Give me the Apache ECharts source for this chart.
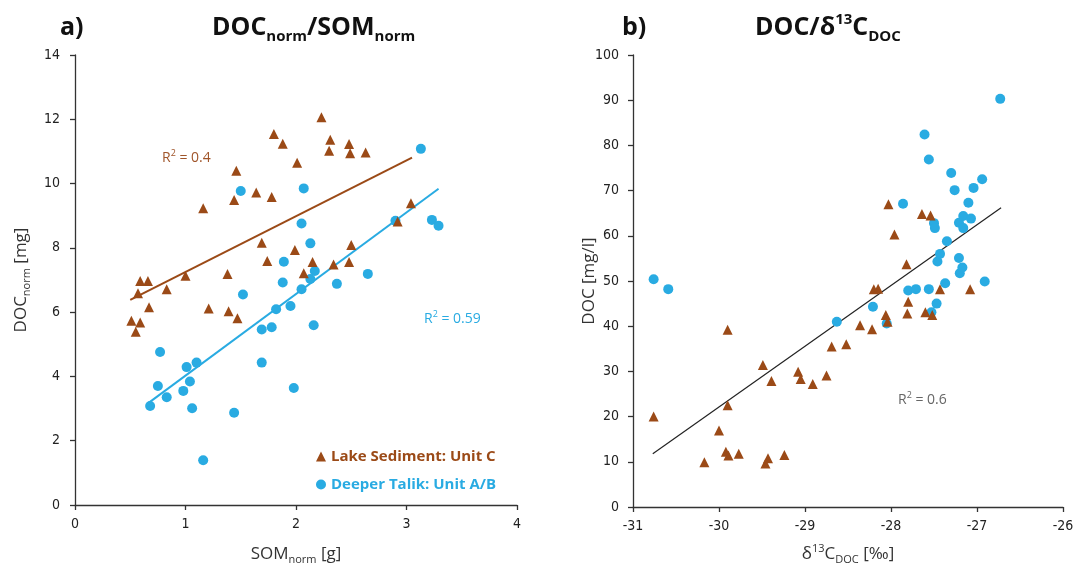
<!DOCTYPE html>
<html>
<head>
<meta charset="utf-8">
<script src="https://cdn.jsdelivr.net/npm/echarts@6/dist/echarts.min.js"></script>
<style>
html,body{margin:0;padding:0;background:#fff}
#chart{width:1078px;height:565px}
</style>
</head>
<body>
<div id="chart"></div>
<script>
// a) DOCnorm vs SOMnorm
const lakeA = [[0.51,5.73],[0.55,5.39],[0.59,5.68],[0.57,6.59],[0.59,6.97],[0.66,6.97],[0.67,6.15],[0.83,6.71],
  [1.0,7.13],[1.16,9.23],[1.21,6.11],[1.38,7.19],[1.39,6.03],[1.44,9.49],[1.46,10.4],[1.47,5.81],[1.64,9.72],
  [1.69,8.16],[1.74,7.59],[1.78,9.58],[1.8,11.54],[1.88,11.24],[1.99,7.93],[2.01,10.65],[2.07,7.21],[2.15,7.56],
  [2.23,12.06],[2.3,11.02],[2.31,11.36],[2.34,7.48],[2.48,11.23],[2.49,10.94],[2.48,7.56],[2.5,8.09],[2.63,10.97],
  [2.92,8.82],[3.04,9.39]];
const talikA = [[0.68,3.08],[0.75,3.7],[0.77,4.76],[0.83,3.35],[0.98,3.55],[1.01,4.29],[1.04,3.84],[1.06,3.01],
  [1.1,4.43],[1.16,1.39],[1.44,2.87],[1.5,9.77],[1.52,6.55],[1.69,5.46],[1.69,4.43],[1.78,5.53],[1.82,6.09],
  [1.88,6.92],[1.89,7.57],[1.95,6.19],[1.98,3.64],[2.05,8.76],[2.05,6.71],[2.07,9.85],[2.13,8.14],[2.13,7.03],
  [2.16,5.59],[2.17,7.28],[2.37,6.88],[2.65,7.19],[2.9,8.84],[3.13,11.08],[3.23,8.87],[3.29,8.69]];
const fitLakeA = [[0.5,6.38],[3.05,10.81]];
const fitTalikA = [[0.66,3.16],[3.29,9.84]];

// b) DOC vs d13C-DOC
const lakeB = [[-30.76,20.0],[-30.17,9.9],[-30.0,16.9],[-29.92,12.2],[-29.9,39.2],[-29.9,22.5],[-29.89,11.4],
  [-29.77,11.8],[-29.49,31.4],[-29.46,9.6],[-29.43,10.8],[-29.39,27.9],[-29.24,11.5],[-29.08,29.9],[-29.05,28.3],
  [-28.91,27.2],[-28.75,29.1],[-28.69,35.5],[-28.52,36.0],[-28.36,40.2],[-28.22,39.3],[-28.2,48.2],[-28.15,48.3],
  [-28.06,42.5],[-28.04,41.0],[-28.03,67.0],[-27.96,60.3],[-27.82,53.7],[-27.81,42.8],[-27.8,45.4],[-27.64,64.8],
  [-27.6,43.1],[-27.54,64.5],[-27.52,42.5],[-27.43,48.2],[-27.08,48.2]];
const talikB = [[-30.76,50.4],[-30.59,48.2],[-28.63,41.0],[-28.21,44.3],[-28.05,40.6],[-27.86,67.1],[-27.8,47.9],
  [-27.71,48.2],[-27.61,82.4],[-27.56,76.9],[-27.56,48.2],[-27.53,43.1],[-27.5,62.8],[-27.49,61.7],[-27.47,45.0],
  [-27.46,54.3],[-27.43,56.0],[-27.37,49.5],[-27.35,58.8],[-27.3,73.9],[-27.26,70.1],[-27.21,62.9],[-27.21,55.1],
  [-27.2,51.7],[-27.17,53.0],[-27.16,64.4],[-27.16,61.7],[-27.1,67.3],[-27.07,63.8],[-27.04,70.6],[-26.94,72.5],
  [-26.91,49.9],[-26.73,90.3]];
const fitB = [[-30.77,11.8],[-26.72,66.2]];

const BROWN = '#9b4a17'
const BLUE = '#29abe2'
const FONT = "'Open Sans', 'DejaVu Sans', sans-serif"
const NARROW = "'Liberation Sans Narrow', 'DejaVu Sans Condensed', sans-serif"
const LAKE = 'Lake Sediment: Unit C'
const TALIK = 'Deeper Talik: Unit A/B'

const myChart = echarts.init(document.getElementById('chart'))

function axisCommon(margin) {
  return {
    axisLine: { show: true, onZero: false, lineStyle: { color: '#333', width: 1.3 } },
    axisTick: { show: true, inside: false, length: 5, lineStyle: { color: '#333', width: 1.3 } },
    axisLabel: { color: '#222', fontSize: 14, fontFamily: NARROW, margin: margin },
    splitLine: { show: false },
    nameLocation: 'middle',
    nameMoveOverlap: false,
    nameTextStyle: {
      color: '#333', fontSize: 17, fontFamily: FONT, lineHeight: 22,
      rich: {
        s: { fontSize: 11, fontFamily: FONT, color: '#333', lineHeight: 12, verticalAlign: 'bottom' },
        p: { fontSize: 11, fontFamily: FONT, color: '#333', lineHeight: 12, verticalAlign: 'top' }
      }
    }
  }
}

const titleRich = {
  s: { fontSize: 15, fontWeight: 'bold', fontFamily: FONT, color: '#111', lineHeight: 15, verticalAlign: 'bottom' },
  p: { fontSize: 15, fontWeight: 'bold', fontFamily: FONT, color: '#111', lineHeight: 15, verticalAlign: 'top' }
}
const titleStyle = { fontSize: 25, fontWeight: 'bold', fontFamily: FONT, color: '#111', lineHeight: 32, rich: titleRich }

function r2(text, color, left, top) {
  return {
    text: text, left: left, top: top, padding: 0,
    textStyle: {
      fontSize: 14, fontWeight: 'normal', fontFamily: FONT, color: color, lineHeight: 18,
      rich: { p: { fontSize: 9, fontFamily: FONT, color: color, lineHeight: 10, verticalAlign: 'top' } }
    }
  }
}

myChart.setOption({
  animation: false,
  backgroundColor: '#fff',
  title: [
    { text: 'a)', left: 60, top: 12, padding: 0, textStyle: titleStyle },
    { text: 'DOC{s|norm}/SOM{s|norm}', left: 212, top: 12, padding: 0, textStyle: titleStyle },
    { text: 'b)', left: 622, top: 12, padding: 0, textStyle: titleStyle },
    { text: 'DOC/δ{p|13}C{s|DOC}', left: 755, top: 12, padding: 0, textStyle: titleStyle },
    r2('R{p|2} = 0.4', '#a0552a', 162, 149),
    r2('R{p|2} = 0.59', BLUE, 424, 310),
    r2('R{p|2} = 0.6', '#666', 898, 391)
  ],
  legend: {
    orient: 'vertical',
    left: 311,
    top: 444,
    itemGap: 13,
    itemWidth: 10,
    itemHeight: 10,
    textStyle: { fontSize: 15, fontWeight: 'bold', fontFamily: FONT },
    data: [
      { name: LAKE, icon: 'triangle', textStyle: { color: BROWN } },
      { name: TALIK, icon: 'circle', textStyle: { color: BLUE } }
    ]
  },
  grid: [
    { left: 75, right: 561, top: 55, bottom: 60, containLabel: false, outerBoundsMode: 'none' },
    { left: 633, right: 15, top: 55, bottom: 58, containLabel: false, outerBoundsMode: 'none' }
  ],
  xAxis: [
    Object.assign(axisCommon(12), {
      gridIndex: 0, type: 'value', min: 0, max: 4, interval: 1,
      name: 'SOM{s|norm} [g]', nameGap: 38
    }),
    Object.assign(axisCommon(12), {
      gridIndex: 1, type: 'value', min: -31, max: -26, interval: 1,
      name: 'δ{p|13}C{s|DOC} [‰]', nameGap: 36
    })
  ],
  yAxis: [
    Object.assign(axisCommon(15), {
      gridIndex: 0, type: 'value', min: 0, max: 14, interval: 2,
      name: 'DOC{s|norm} [mg]', nameGap: 43
    }),
    Object.assign(axisCommon(14), {
      gridIndex: 1, type: 'value', min: 0, max: 100, interval: 10,
      name: 'DOC [mg/l]', nameGap: 33
    })
  ],
  series: [
    {
      name: 'fitLakeA', type: 'line', xAxisIndex: 0, yAxisIndex: 0, data: fitLakeA,
      showSymbol: false, symbol: 'none', lineStyle: { color: BROWN, width: 2 }, z: 1
    },
    {
      name: 'fitTalikA', type: 'line', xAxisIndex: 0, yAxisIndex: 0, data: fitTalikA,
      showSymbol: false, symbol: 'none', lineStyle: { color: BLUE, width: 2 }, z: 1
    },
    {
      name: 'fitB', type: 'line', xAxisIndex: 1, yAxisIndex: 1, data: fitB,
      showSymbol: false, symbol: 'none', lineStyle: { color: '#222', width: 1.2 }, z: 1
    },
    {
      name: LAKE, type: 'scatter', xAxisIndex: 0, yAxisIndex: 0, data: lakeA,
      symbol: 'triangle', symbolSize: 10, itemStyle: { color: BROWN, opacity: 1 }, z: 3
    },
    {
      name: TALIK, type: 'scatter', xAxisIndex: 0, yAxisIndex: 0, data: talikA,
      symbol: 'circle', symbolSize: 10, itemStyle: { color: BLUE, opacity: 1 }, z: 2
    },
    {
      name: LAKE, type: 'scatter', xAxisIndex: 1, yAxisIndex: 1, data: lakeB,
      symbol: 'triangle', symbolSize: 10, itemStyle: { color: BROWN, opacity: 1 }, z: 3
    },
    {
      name: TALIK, type: 'scatter', xAxisIndex: 1, yAxisIndex: 1, data: talikB,
      symbol: 'circle', symbolSize: 10, itemStyle: { color: BLUE, opacity: 1 }, z: 2
    }
  ]
})
</script>
</body>
</html>
